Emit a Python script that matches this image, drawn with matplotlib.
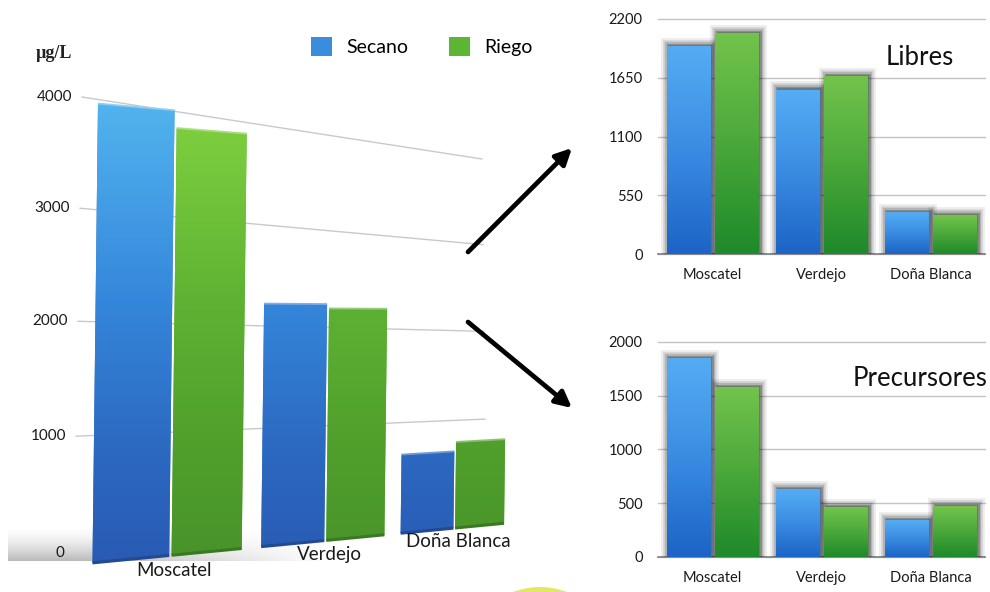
import numpy as np
import matplotlib
matplotlib.use("Agg")
import matplotlib.pyplot as plt
from matplotlib.transforms import Transform
from matplotlib.colors import LinearSegmentedColormap, to_rgb
from matplotlib.patches import Patch, Circle
from matplotlib import patheffects as pe

plt.rcParams["font.family"] = ["Lato", "DejaVu Sans"]

# ---------------------------------------------------------------- data
categories = ["Moscatel", "Verdejo", "Doña Blanca"]
series = ["Secano", "Riego"]

total_secano = [3790, 2150, 740]
total_riego = [3640, 2110, 830]
total_ticks = [0, 1000, 2000, 3000, 4000]

libres_secano = [1940, 1535, 387]
libres_riego = [2066, 1660, 359]
libres_ticks = [0, 550, 1100, 1650, 2200]

precursores_secano = [1846, 629, 337]
precursores_riego = [1576, 461, 467]
precursores_ticks = [0, 500, 1000, 1500, 2000]

unit_label = "µg/L"


# ---------------------------------------------------------------- projections
class Homography(Transform):
    """Planar projective mapping defined by four point pairs."""
    input_dims = output_dims = 2

    def __init__(self, src, dst):
        super().__init__()
        rows, rhs = [], []
        for (x, y), (u, v) in zip(src, dst):
            rows.append([x, y, 1, 0, 0, 0, -u * x, -u * y]); rhs.append(u)
            rows.append([0, 0, 0, x, y, 1, -v * x, -v * y]); rhs.append(v)
        h = np.linalg.solve(np.array(rows, float), np.array(rhs, float))
        self._m = np.append(h, 1.0).reshape(3, 3)

    def transform_non_affine(self, values):
        v = np.asarray(values, float).reshape(-1, 2)
        p = np.column_stack([v, np.ones(len(v))]) @ self._m.T
        return p[:, :2] / p[:, 2:3]


class RecedingColumns(Transform):
    """Category axis receding to the right; value columns shrink with depth."""
    input_dims = output_dims = 2

    def __init__(self, x_left, px_left, px_step, recede, px_right,
                 base_left, base_right, scale_left, scale_right, lean):
        super().__init__()
        self.p = dict(x_left=x_left, px_left=px_left, px_step=px_step,
                      recede=recede, px_right=px_right, base_left=base_left,
                      base_right=base_right, scale_left=scale_left,
                      scale_right=scale_right, lean=lean)

    def transform_non_affine(self, values):
        p = self.p
        v = np.asarray(values, float).reshape(-1, 2)
        d = v[:, 0] - p["x_left"]
        px = p["px_left"] + p["px_step"] * d / (1 + p["recede"] * d)
        f = (px - p["px_left"]) / (p["px_right"] - p["px_left"])
        base = p["base_left"] + (p["base_right"] - p["base_left"]) * f
        scale = p["scale_left"] + (p["scale_right"] - p["scale_left"]) * f
        h = scale * v[:, 1]
        return np.column_stack([px + p["lean"] * h, base - h])


# ---------------------------------------------------------------- figure
fig = plt.figure(figsize=(9.9, 5.92), dpi=100)
ax = fig.add_axes([0, 0, 1, 1])
ax.set_xlim(0, 990)
ax.set_ylim(592, 0)
ax.axis("off")

wall = Homography([(0, 0), (0, 4000), (1, 0), (1, 4000)],
                  [(74, 553), (82, 97), (486, 508), (482, 159)])
wall_tr = wall + ax.transData

cols = RecedingColumns(x_left=-0.445, px_left=91, px_step=186.7, recede=0.105,
                       px_right=507, base_left=563, base_right=523,
                       scale_left=0.12125, scale_right=0.1012, lean=0.012)
cols_tr = cols + ax.transData

# back wall grid and value labels
for t in total_ticks:
    if t > 0:
        ax.plot([0, 1], [t, t], transform=wall_tr, color="#c9c9c9", lw=1.0, zorder=1)
    ax.annotate(f"{t}", xy=(0, t), xycoords=wall_tr, xytext=(-10, 0),
                textcoords="offset pixels", ha="right", va="center",
                fontsize=11, color="#1a1a1a")

ax.text(36, 53, unit_label, family=["Liberation Serif", "DejaVu Serif"],
        fontsize=13, fontweight="bold", va="center", ha="left", color="#222222")

# floor shadow
nx, ny = 240, 60
fx = np.clip((1 - np.linspace(0, 1, nx)) / 0.72, 0, 1)
fy = np.linspace(0, 1, ny) ** 1.6
rgba = np.zeros((ny, nx, 4))
rgba[..., :3] = 0.66
rgba[..., 3] = 0.8 * fy[:, None] * fx[None, :]
ax.imshow(rgba, extent=(8, 330, 561, 526), origin="upper", aspect="auto",
          zorder=1.5, interpolation="bilinear")

# big perspective bars, shaded by height
grad_y0, grad_y1 = 60, 575


def ystop(y):
    return (y - grad_y0) / (grad_y1 - grad_y0)


secano_cmap = LinearSegmentedColormap.from_list(
    "secano", [(0.0, "#5cc2f3"), (ystop(100), "#52b4ee"), (ystop(300), "#3587db"),
               (ystop(450), "#2c69c1"), (1.0, "#2959b2")])
riego_cmap = LinearSegmentedColormap.from_list(
    "riego", [(0.0, "#88d84c"), (ystop(133), "#7ccd3e"), (ystop(310), "#5cb132"),
              (ystop(450), "#509f2c"), (1.0, "#48922a")])

xpos = np.arange(len(categories))
gradient = np.linspace(0, 1, 256)[:, None]
for vals, off, cmap in ((total_secano, -0.222, secano_cmap),
                        (total_riego, 0.222, riego_cmap)):
    bars = ax.bar(xpos + off, vals, 0.43, transform=cols_tr,
                  color=cmap(0.6), zorder=2, linewidth=0)
    for b in bars:
        bx0 = b.get_x(); bx1 = bx0 + b.get_width(); h = b.get_height()
        corners = cols.transform([[bx0, 0], [bx1, 0], [bx0, h], [bx1, h]])
        im = ax.imshow(gradient, cmap=cmap, origin="upper", aspect="auto",
                       extent=(corners[:, 0].min() - 1, corners[:, 0].max() + 1,
                               grad_y1, grad_y0),
                       zorder=2.1, interpolation="bilinear")
        im.set_clip_path(b.get_path(), b.get_transform())
        top_c = np.array(to_rgb(cmap(ystop(corners[2, 1]))))
        ax.plot([bx0, bx1], [h, h], transform=cols_tr,
                color=tuple(top_c + (1 - top_c) * 0.35), lw=1.3, zorder=2.2,
                solid_capstyle="butt")
        ax.plot([bx0, bx1], [0, 0], transform=cols_tr,
                color=tuple(np.array(to_rgb(cmap(1.0))) * 0.82), lw=2.2,
                zorder=2.2, solid_capstyle="butt")

for i, name in enumerate(categories):
    ax.annotate(name, xy=(i, -125), xycoords=cols_tr, xytext=(4, 0),
                textcoords="offset pixels", ha="center", va="center",
                fontsize=13.5, color="#1a1a1a", zorder=3)

# arrows towards the detail charts
arrow = dict(arrowstyle="-|>", lw=3.4, color="black", mutation_scale=24,
             shrinkA=0, shrinkB=0)
ax.annotate("", xy=(572, 148), xytext=(468, 252), arrowprops=arrow)
ax.annotate("", xy=(572, 408), xytext=(468, 322), arrowprops=arrow)

# decorative disc at the bottom edge
ax.add_patch(Circle((540, 662), 75, facecolor="#e2e553", edgecolor="none",
                    alpha=0.9, zorder=0.5))

ax.set_xlim(0, 990)
ax.set_ylim(592, 0)

# legend
fig.legend(handles=[Patch(facecolor="#3a8cdc"), Patch(facecolor="#5db535")],
           labels=series, loc="center left",
           bbox_to_anchor=(311 / 990, 1 - 46.5 / 592),
           bbox_transform=fig.transFigure, ncol=2, frameon=False,
           fontsize=14, handlelength=1.1, handleheight=1.1,
           handletextpad=0.7, columnspacing=2.1, borderpad=0, borderaxespad=0)

# ---------------------------------------------------------------- detail charts
blue_small = ["#55acf3", "#3a8ce2", "#1c64c6"]
green_small = ["#72c34c", "#4aa83a", "#1e8a2a"]
halo = [pe.Stroke(linewidth=lw, foreground="#000000", alpha=a, offset=(1.2, 1.2))
        for lw, a in ((10, 0.07), (7, 0.1), (4.5, 0.15), (2.2, 0.22))] + [pe.Normal()]


def detail_chart(rect, secano, riego, ticks, title, title_xy):
    a = fig.add_axes(rect)
    x = np.arange(len(categories))
    for vals, off, colors in ((secano, -0.222, blue_small), (riego, 0.222, green_small)):
        cmap = LinearSegmentedColormap.from_list("g", colors)
        bars = a.bar(x + off, vals, 0.4, color=colors[1], zorder=3,
                     linewidth=0, path_effects=halo)
        for b in bars:
            bx, by = b.get_xy()
            a.imshow(np.linspace(0, 1, 128)[:, None], cmap=cmap, origin="upper",
                     aspect="auto", interpolation="bilinear",
                     extent=(bx, bx + b.get_width(), by, by + b.get_height()),
                     clip_path=b, zorder=3.5)
    a.set_xlim(-0.5, 2.5)
    a.set_ylim(ticks[0], ticks[-1])
    a.set_yticks(ticks)
    a.set_xticks(x)
    a.set_xticklabels(categories)
    a.tick_params(axis="y", length=0, pad=11, labelsize=10.5, labelcolor="#1a1a1a")
    a.tick_params(axis="x", length=0, pad=10, labelsize=10.5, labelcolor="#1a1a1a")
    a.yaxis.grid(True, color="#c4c4c4", lw=1.0)
    for gl in a.yaxis.get_gridlines():
        gl.set_clip_on(False)
    a.set_axisbelow(True)
    for s in ("left", "right", "top"):
        a.spines[s].set_visible(False)
    a.spines["bottom"].set_color("#808080")
    a.spines["bottom"].set_linewidth(1.2)
    a.set_facecolor("none")
    a.text(*title_xy, title, transform=a.transAxes, ha="center", va="center",
           fontsize=18.5, color="#111111", clip_on=False)
    return a


detail_chart([658 / 990, 1 - 254 / 592, 327 / 990, 235 / 592],
             libres_secano, libres_riego, libres_ticks, "Libres", (0.80, 0.838))
detail_chart([658 / 990, 1 - 557 / 592, 327 / 990, 215.3 / 592],
             precursores_secano, precursores_riego, precursores_ticks,
             "Precursores", (0.80, 0.831))

fig.savefig("out.png", dpi=100)
